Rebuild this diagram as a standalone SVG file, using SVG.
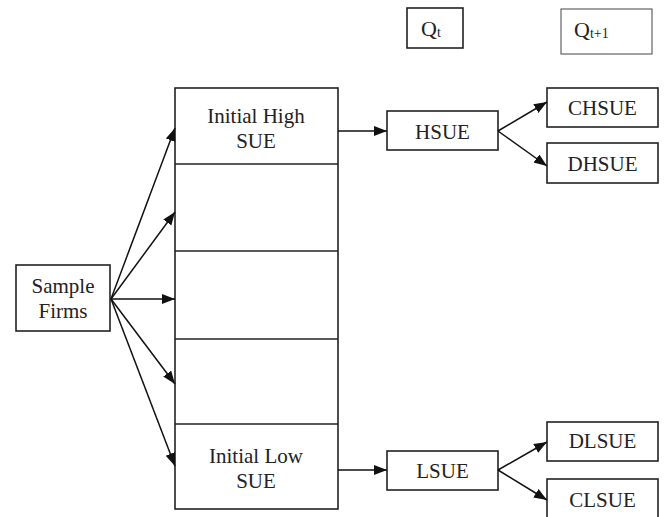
<svg xmlns="http://www.w3.org/2000/svg" width="666" height="517" viewBox="0 0 666 517">
<style>
.box{fill:#fff;stroke:#222;stroke-width:1.6}
.lite{fill:#fff;stroke:#555;stroke-width:1.1}
.t{font-family:"Liberation Serif","Times New Roman",serif;font-size:21px;fill:#222;text-anchor:middle}
.q{font-family:"Liberation Serif","Times New Roman",serif;font-size:22px;fill:#222}
.c{stroke:#111;stroke-width:1.5;fill:none;marker-end:url(#ah)}
</style>
<defs>
<marker id="ah" markerUnits="userSpaceOnUse" markerWidth="14" markerHeight="12" refX="13" refY="5" orient="auto">
<path d="M0,0 L13,5 L0,10 Z" fill="#111"/>
</marker>
</defs>
<rect width="666" height="517" fill="#fff"/>
<g id="qt">
<rect class="box" x="407" y="8" width="56" height="40"/>
<text class="q" x="421" y="36">Q<tspan font-size="14" dy="1">t</tspan></text>
</g>
<g id="qt1">
<rect class="lite" x="561" y="9" width="91" height="45"/>
<text class="q" x="574" y="37">Q<tspan font-size="14" dy="1">t+1</tspan></text>
</g>
<g id="sample">
<rect class="box" x="16" y="265" width="94" height="66"/>
<text class="t" x="63" y="293">Sample</text>
<text class="t" x="63" y="318">Firms</text>
</g>
<g id="column">
<rect class="box" x="175" y="88" width="163" height="421"/>
<line class="box" x1="175" y1="164" x2="338" y2="164"/>
<line class="box" x1="175" y1="251" x2="338" y2="251"/>
<line class="box" x1="175" y1="339" x2="338" y2="339"/>
<line class="box" x1="175" y1="424" x2="338" y2="424"/>
</g>
<g id="high">
<text class="t" x="256" y="123">Initial High</text>
<text class="t" x="256" y="148">SUE</text>
</g>
<g id="low">
<text class="t" x="256" y="463">Initial Low</text>
<text class="t" x="256" y="488">SUE</text>
</g>
<g id="hsue">
<rect class="box" x="387" y="111" width="111" height="39"/>
<text class="t" x="442.5" y="139">HSUE</text>
</g>
<g id="chsue">
<rect class="box" x="547" y="88" width="111" height="39"/>
<text class="t" x="602.5" y="115">CHSUE</text>
</g>
<g id="dhsue">
<rect class="box" x="547" y="143" width="111" height="40"/>
<text class="t" x="602.5" y="171">DHSUE</text>
</g>
<g id="lsue">
<rect class="box" x="387" y="451" width="111" height="39"/>
<text class="t" x="442.5" y="478">LSUE</text>
</g>
<g id="dlsue">
<rect class="box" x="547" y="422" width="111" height="39"/>
<text class="t" x="602.5" y="448">DLSUE</text>
</g>
<g id="clsue">
<rect class="box" x="547" y="479" width="111" height="40"/>
<text class="t" x="602.5" y="507">CLSUE</text>
</g>
<g id="connectors">
<line class="c" x1="111" y1="299" x2="175" y2="128"/>
<line class="c" x1="111" y1="299" x2="175" y2="212"/>
<line class="c" x1="111" y1="299" x2="175" y2="299"/>
<line class="c" x1="111" y1="299" x2="175" y2="384"/>
<line class="c" x1="111" y1="299" x2="175" y2="466"/>
<line class="c" x1="338" y1="131" x2="387" y2="131"/>
<line class="c" x1="338" y1="470" x2="387" y2="470"/>
<line class="c" x1="498" y1="131" x2="547" y2="102"/>
<line class="c" x1="498" y1="131" x2="547" y2="166"/>
<line class="c" x1="498" y1="470" x2="547" y2="442"/>
<line class="c" x1="498" y1="470" x2="547" y2="500"/>
</g>
</svg>
